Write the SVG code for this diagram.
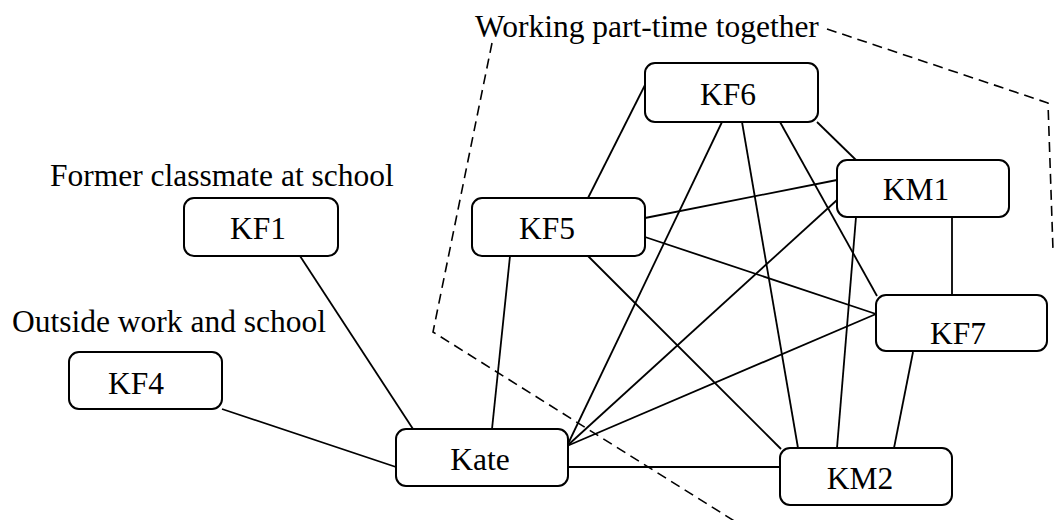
<svg xmlns="http://www.w3.org/2000/svg" width="1054" height="520" viewBox="0 0 1054 520">
<style>
.box{fill:#fff;stroke:#000;stroke-width:2}
.lbl{font-family:"Liberation Serif","Times New Roman",serif;font-size:31.5px;fill:#000}
.nt{font-family:"Liberation Serif","Times New Roman",serif;font-size:31.5px;fill:#000;text-anchor:middle}
.edge{stroke:#000;stroke-width:1.8;fill:none}
.dash{stroke:#000;stroke-width:1.6;fill:none;stroke-dasharray:10 6}
</style>
<rect width="1054" height="520" fill="#fff"/>
<g id="group-boundary">
<polyline class="dash" points="492,43 433,332 736,522"/>
<polyline class="dash" points="827,29 1048,103 1053,250"/>
</g>
<g id="connectors">
<line class="edge" x1="300" y1="256" x2="413" y2="429"/>
<line class="edge" x1="222" y1="409" x2="396" y2="467"/>
<line class="edge" x1="568" y1="467" x2="780" y2="467"/>
<line class="edge" x1="510" y1="256" x2="492" y2="429"/>
<line class="edge" x1="567" y1="446" x2="722" y2="122"/>
<line class="edge" x1="567" y1="446" x2="837" y2="200"/>
<line class="edge" x1="567" y1="446" x2="876" y2="314"/>
<line class="edge" x1="588" y1="198" x2="645" y2="85"/>
<line class="edge" x1="645" y1="218" x2="837" y2="180"/>
<line class="edge" x1="645" y1="237" x2="876" y2="314"/>
<line class="edge" x1="588" y1="256" x2="781" y2="449"/>
<line class="edge" x1="817" y1="122" x2="856" y2="160"/>
<line class="edge" x1="780" y1="122" x2="877" y2="296"/>
<line class="edge" x1="742" y1="122" x2="798" y2="448"/>
<line class="edge" x1="856" y1="217" x2="837" y2="448"/>
<line class="edge" x1="952" y1="217" x2="952" y2="295"/>
<line class="edge" x1="913" y1="352" x2="894" y2="448"/>
</g>
<g id="labels">
<text class="lbl" x="475" y="37">Working part-time together</text>
<text class="lbl" x="50" y="186">Former classmate at school</text>
<text class="lbl" x="12" y="332">Outside work and school</text>
</g>
<g id="node-KF1"><rect class="box" x="184" y="198" width="154" height="58" rx="10"/><text class="nt" x="258" y="239">KF1</text></g>
<g id="node-KF4"><rect class="box" x="69" y="352" width="153" height="57" rx="10"/><text class="nt" x="136" y="394">KF4</text></g>
<g id="node-KF5"><rect class="box" x="472" y="198" width="173" height="58" rx="10"/><text class="nt" x="547" y="239">KF5</text></g>
<g id="node-KF6"><rect class="box" x="645" y="63" width="173" height="59" rx="10"/><text class="nt" x="728" y="105">KF6</text></g>
<g id="node-KM1"><rect class="box" x="837" y="160" width="172" height="57" rx="10"/><text class="nt" x="916" y="200">KM1</text></g>
<g id="node-KF7"><rect class="box" x="876" y="295" width="171" height="56" rx="10"/><text class="nt" x="958" y="344">KF7</text></g>
<g id="node-Kate"><rect class="box" x="396" y="429" width="172" height="57" rx="10"/><text class="nt" x="480" y="470">Kate</text></g>
<g id="node-KM2"><rect class="box" x="780" y="448" width="172" height="57" rx="10"/><text class="nt" x="860" y="489">KM2</text></g>
</svg>
